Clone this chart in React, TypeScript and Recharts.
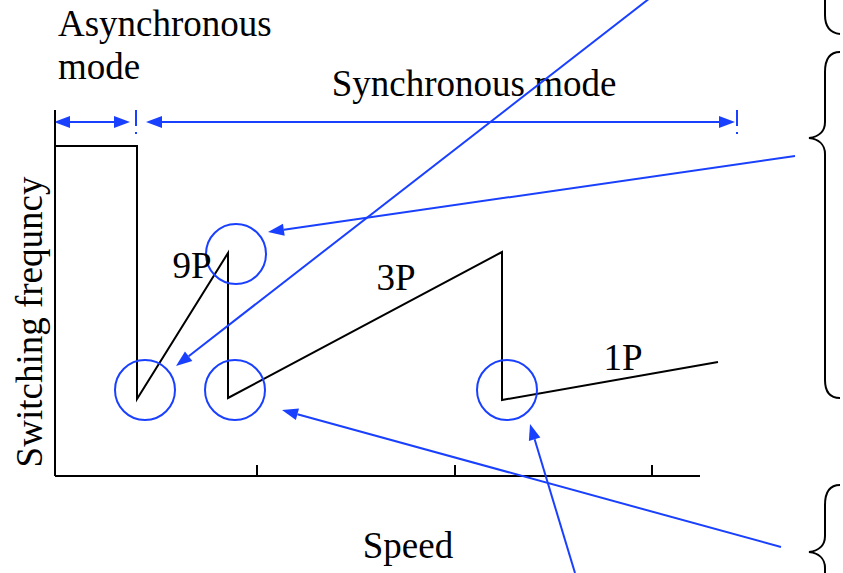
import { ComposedChart, Line, XAxis, YAxis, ReferenceLine, ReferenceDot, Customized } from 'recharts';

// switching frequency profile vs speed (units)
const speed = [0, 82, 82, 173, 173, 447, 447, 663];
const freq = [330, 330, 77, 223, 78, 224, 76, 114];
const speedTicks = [202, 400, 597];

const curve = speed.map((s, i) => ({ speed: s, freq: freq[i] }));

const pulseLabels = [
  { text: '9P', x: 137, y: 198 },
  { text: '3P', x: 341, y: 186 },
  { text: '1P', x: 568, y: 106 },
];

const circles = [
  { x: 90, y: 86 },
  { x: 180, y: 86 },
  { x: 181, y: 222 },
  { x: 452, y: 86 },
];

// [from, to, double-headed]
const arrows: [number, number, number, number, boolean][] = [
  [-1, 354, 75, 354, true],
  [91, 354, 680, 354, true],
  [595, 478, 121, 110, false],
  [740, 320, 213, 244, false],
  [726, -71, 227, 66, false],
  [520, -97, 475, 52, false],
];

const modeMarks = [81, 682];

const BLUE = '#1a40ff';
const FONT = '"Liberation Serif", "Times New Roman", serif';

function head(x1: number, y1: number, x2: number, y2: number) {
  const dx = x2 - x1;
  const dy = y2 - y1;
  const len = Math.hypot(dx, dy) || 1;
  const ux = dx / len;
  const uy = dy / len;
  const L = 16;
  const W = 6;
  const bx = x2 - ux * L;
  const by = y2 - uy * L;
  return {
    pts: `${x2},${y2} ${bx - uy * W},${by + ux * W} ${bx + uy * W},${by - ux * W}`,
    bx,
    by,
  };
}

const arrowShape = (both: boolean) => (p: any) => {
  const { x1, y1, x2, y2 } = p;
  const e = head(x1, y1, x2, y2);
  const s = both ? head(x2, y2, x1, y1) : null;
  return (
    <g>
      <line x1={s ? s.bx : x1} y1={s ? s.by : y1} x2={e.bx} y2={e.by} stroke={BLUE} strokeWidth={2} />
      <polygon points={e.pts} fill={BLUE} />
      {s && <polygon points={s.pts} fill={BLUE} />}
    </g>
  );
};

const Decorations = () => (
  <g>
    <g fontFamily={FONT} fontSize={37} fill="#000">
      <text x={58} y={36}>Asynchronous</text>
      <text x={58} y={79}>mode</text>
      <text x={474} y={96} textAnchor="middle">Synchronous mode</text>
      <text x={408} y={558} textAnchor="middle">Speed</text>
      <text x={42} y={322} textAnchor="middle" transform="rotate(-90 42 322)">
        Switching frequncy
      </text>
    </g>
    <g fill="none" stroke="#000" strokeWidth={2}>
      <path d="M825,-5 L825,15 C825,28 831,33 840,34" />
      <path d="M840,52 C831,52 825,58 825,72 L825,122 C825,132 818,137 809,138 C818,139 825,144 825,154 L825,380 C825,393 831,398 840,398" />
      <path d="M840,485 C831,485 825,491 825,505 L825,536 C825,546 818,551 809,552 C818,553 825,558 825,568 L825,590" />
    </g>
  </g>
);

export default function App() {
  return (
    <div style={{ position: 'absolute', left: 0, top: 0 }}>
      <ComposedChart width={843} height={573} data={curve} margin={{ top: 110, right: 88, bottom: 97, left: 0 }}>
        <XAxis
          dataKey="speed"
          type="number"
          domain={[0, 700]}
          ticks={speedTicks}
          interval={0}
          mirror
          axisLine={false}
          tickSize={11}
          tickLine={{ stroke: '#000', strokeWidth: 2 }}
          tickFormatter={() => ''}
        />
        <YAxis
          type="number"
          domain={[0, 366]}
          width={55}
          tick={false}
          tickLine={false}
          axisLine={{ stroke: '#000', strokeWidth: 2 }}
        />
        <ReferenceLine
          segment={[{ x: 0, y: 0 }, { x: 645, y: 0 }]}
          stroke="#000"
          strokeWidth={2}
          ifOverflow="visible"
        />
        <Line dataKey="freq" type="linear" stroke="#000" strokeWidth={2} dot={false} isAnimationActive={false} />
        {circles.map((c, i) => (
          <ReferenceDot key={i} x={c.x} y={c.y} r={30} fill="none" stroke={BLUE} strokeWidth={2} ifOverflow="visible" />
        ))}
        {modeMarks.map((m) => (
          <ReferenceLine
            key={m}
            segment={[{ x: m, y: 366 }, { x: m, y: 341 }]}
            stroke={BLUE}
            strokeWidth={2}
            strokeDasharray="16 6 2"
            ifOverflow="visible"
          />
        ))}
        {arrows.map((a, i) => (
          <ReferenceLine
            key={i}
            segment={[{ x: a[0], y: a[1] }, { x: a[2], y: a[3] }]}
            ifOverflow="visible"
            shape={arrowShape(a[4])}
          />
        ))}
        {pulseLabels.map((l) => (
          <ReferenceDot
            key={l.text}
            x={l.x}
            y={l.y}
            r={0}
            ifOverflow="visible"
            shape={(p: any) => (
              <text x={p.cx} y={p.cy} textAnchor="middle" fontFamily={FONT} fontSize={37} fill="#000">
                {l.text}
              </text>
            )}
          />
        ))}
        <Customized component={Decorations} />
      </ComposedChart>
    </div>
  );
}
